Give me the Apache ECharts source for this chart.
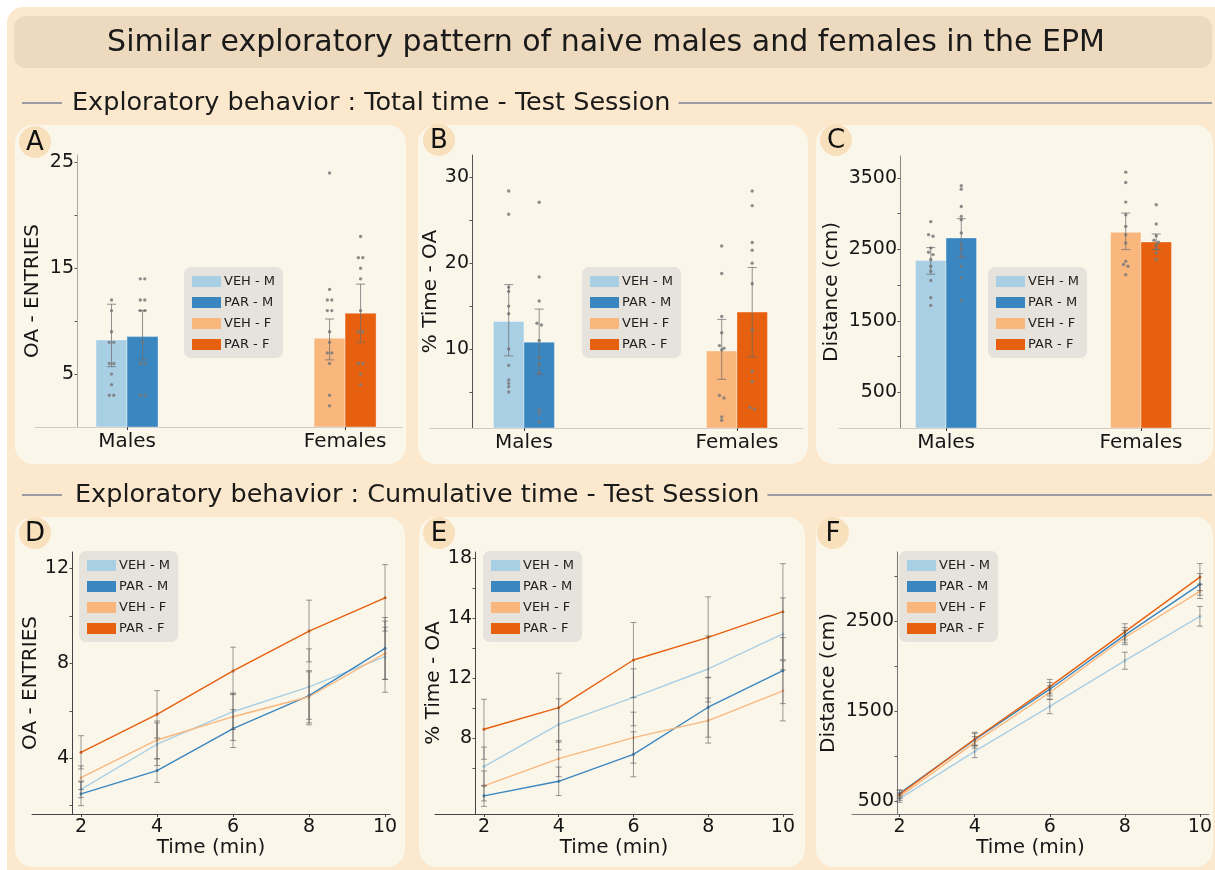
<!DOCTYPE html>
<html><head><meta charset="utf-8">
<script src="https://cdn.jsdelivr.net/npm/echarts@6/dist/echarts.min.js"></script>
<style>html,body{margin:0;padding:0;background:#fff;}#c{width:1215px;height:870px;}</style>
</head><body><div id="c"></div>
<script>
// ---------------- DATA ----------------
const groupNames = ['Males', 'Females'];
const seriesNames = ['VEH - M', 'PAR - M', 'VEH - F', 'PAR - F'];
const timePoints = [2, 4, 6, 8, 10];

// Panel A : OA entries (total)
const aMeans = [8.23, 8.54, 8.39, 10.75];
const aLow = [5.7, 6.34, 6.34, 8.0];
const aHigh = [11.6, 11.0, 10.2, 13.5];
const aDots = [
  [12, 11, 9, 8, 8, 6, 6, 5, 4, 3, 3],
  [14, 14, 12, 12, 11, 11, 8, 6, 6, 3, 3],
  [24, 13, 12, 12, 11, 11, 9, 8, 7, 7, 6, 3, 2],
  [18, 16, 16, 15, 14, 11, 9, 9, 6, 6, 5, 4]
];
// Panel B : % time OA (total)
const bMeans = [13.2, 10.8, 9.77, 14.3];
const bLow = [9.2, 7.05, 6.47, 9.1];
const bHigh = [17.5, 14.65, 13.45, 19.5];
const bDots = [
  [28.4, 25.7, 17.2, 16.7, 15.0, 14.1, 10.0, 8.1, 6.4, 6.0, 5.6, 5.0],
  [27.1, 18.4, 15.6, 13.0, 12.8, 11.0, 9.0, 8.2, 7.2, 2.9, 2.5, 1.5],
  [22.0, 18.8, 13.8, 11.9, 10.4, 10.1, 9.9, 4.6, 4.3, 2.1, 1.7],
  [28.4, 26.7, 22.4, 21.5, 20.0, 17.6, 12.2, 7.4, 6.2, 3.2, 3.0]
];
// Panel C : distance (total)
const cMeans = [2343, 2660, 2739, 2604];
const cLow = [2152, 2385, 2497, 2497];
const cHigh = [2525, 2930, 3009, 2716];
const cDots = [
  [2888, 2706, 2683, 2521, 2460, 2427, 2358, 2264, 2194, 2065, 1823, 1716],
  [3390, 3343, 3101, 2962, 2916, 2730, 2567, 2497, 2404, 2264, 2102, 1786],
  [3581, 3436, 3162, 2985, 2822, 2706, 2590, 2334, 2288, 2264, 2144],
  [3125, 2855, 2692, 2627, 2600, 2557, 2506, 2451, 2358]
];
// Panel D : cumulative OA entries
const dVals = [
  [2.69, 4.59, 5.96, 7.01, 8.28],
  [2.50, 3.48, 5.25, 6.64, 8.63],
  [3.18, 4.77, 5.75, 6.59, 8.42],
  [4.25, 5.85, 7.68, 9.36, 10.76]
];
const dErr = [
  [0.35, 0.9, 0.75, 1.6, 1.5],
  [0.5, 0.5, 0.8, 1.0, 1.3],
  [0.5, 0.8, 1.0, 1.1, 1.1],
  [0.7, 1.0, 1.0, 1.3, 1.4]
];
// Panel E : cumulative % time OA
const eVals = [
  [4.11, 6.93, 8.73, 10.62, 12.96],
  [2.16, 3.13, 4.93, 8.07, 10.51],
  [2.82, 4.64, 6.04, 7.18, 9.16],
  [6.60, 8.04, 11.22, 12.73, 14.44]
];
const eErr = [
  [1.3, 1.7, 1.9, 2.2, 2.4],
  [0.7, 0.95, 1.5, 2.0, 2.2],
  [1.0, 1.2, 1.7, 1.5, 2.0],
  [2.0, 2.3, 2.5, 2.7, 3.2]
];
// Panel F : cumulative distance
const fVals = [
  [526, 1053, 1552, 2061, 2555],
  [585, 1183, 1744, 2345, 2910],
  [548, 1153, 1707, 2319, 2832],
  [574, 1190, 1773, 2382, 2991]
];
const fErr = [
  [40, 70, 80, 95, 110],
  [40, 70, 75, 85, 120],
  [40, 65, 75, 80, 80],
  [45, 75, 80, 90, 150]
];

// Tick values / labels
const aTicks = [5, 10, 15, 20, 25], aLabels = [5, 15, 25];
const bTicks = [5, 10, 15, 20, 25, 30], bLabels = [10, 20, 30];
const cTicks = [500, 1000, 1500, 2000, 2500, 3000, 3500], cLabels = [500, 1500, 2500, 3500];
const dTicks = [2, 4, 6, 8, 10, 12], dLabels = [4, 8, 12];
const eTicks = [4, 6, 8, 10, 12, 14, 16, 18], eLabels = [6, 10, 14, 18];
const eLabelText = ['8', '12', '14', '18'];
const fTicks = [500, 1000, 1500, 2000, 2500, 3000], fLabels = [500, 1500, 2500];

// ---------------- STYLE / LAYOUT ----------------
const FONT = '"DejaVu Sans", sans-serif';
const colors = ['#A9CFE5', '#3A86C0', '#F9B77E', '#E6600F'];
const TXT = '#161616';

const barPanels = [
  {grid: {left: 35, top: 155, width: 367, height: 272}, xMin: -0.422, xMax: 1.261, yMin: 0, yMax: 25.7, yOff: -42, barW: 31,
   yColor: '#aaaaaa', name: 'OA - ENTRIES', nameGap: 34, means: aMeans, lo: aLow, hi: aHigh, dots: aDots, ticks: aTicks, labels: aLabels},
  {grid: {left: 430, top: 155, width: 373, height: 273}, xMin: -0.441, xMax: 1.31, yMin: 0.8, yMax: 32.6, yOff: -42, barW: 30.5,
   yColor: '#555555', name: '% Time - OA', nameGap: 26, means: bMeans, lo: bLow, hi: bHigh, dots: bDots, ticks: bTicks, labels: bLabels},
  {grid: {left: 839, top: 156, width: 371, height: 272}, xMin: -0.549, xMax: 1.354, yMin: 0, yMax: 3807, yOff: -61, barW: 30.5,
   yColor: '#888888', name: 'Distance (cm)', nameGap: 58, means: cMeans, lo: cLow, hi: cHigh, dots: cDots, ticks: cTicks, labels: cLabels}
];
const linePanels = [
  {grid: {left: 32, top: 552, width: 358, height: 262}, xMin: 0.71, xMax: 10.13, yMin: 1.65, yMax: 12.69, yOff: -40,
   yColor: '#444444', name: 'OA - ENTRIES', nameGap: 30, vals: dVals, errs: dErr, ticks: dTicks, labels: dLabels, fmt: null},
  {grid: {left: 435, top: 552, width: 358, height: 262}, xMin: 0.69, xMax: 10.27, yMin: 0.95, yMax: 18.42, yOff: -40,
   yColor: '#444444', name: '% Time - OA', nameGap: 28, vals: eVals, errs: eErr, ticks: eTicks, labels: eLabels,
   fmt: v => eLabelText[eLabels.indexOf(v)]},
  {grid: {left: 852, top: 552, width: 360, height: 262}, xMin: 0.73, xMax: 10.24, yMin: 356, yMax: 3270, yOff: -45,
   yColor: '#777777', name: 'Distance (cm)', nameGap: 58, vals: fVals, errs: fErr, ticks: fTicks, labels: fLabels, fmt: null}
];
const legendPos = [[184, 267], [582, 267], [988, 267], [79, 551], [483, 551], [899, 551]];

function swarm(values, thr) {
  const used = values.map(() => false), offs = values.map(() => 0);
  for (let i = 0; i < values.length; i++) {
    if (used[i]) continue;
    const cl = [i]; used[i] = true;
    for (let j = i + 1; j < values.length; j++) {
      if (!used[j] && Math.abs(values[j] - values[i]) < thr) { cl.push(j); used[j] = true; }
    }
    cl.forEach((idx, k) => { offs[idx] = (k - (cl.length - 1) / 2) * 4.5; });
  }
  return offs;
}

const grids = [], xAxes = [], yAxes = [], series = [], legends = [];

function yAxisOpt(p, idx, fmt) {
  return {
    type: 'value', gridIndex: idx, min: p.yMin, max: p.yMax, offset: p.yOff,
    name: p.name, nameLocation: 'middle', nameGap: p.nameGap,
    nameTextStyle: {fontFamily: FONT, fontSize: 20, color: TXT},
    splitLine: {show: false},
    axisLine: {show: true, onZero: false, lineStyle: {color: p.yColor, width: 1}},
    axisTick: {show: true, length: 2.5, customValues: p.ticks, lineStyle: {color: '#555'}},
    axisLabel: {customValues: p.labels, margin: 3, fontFamily: FONT, fontSize: 19, color: TXT,
      formatter: fmt || (v => String(v))}
  };
}

barPanels.forEach((p, idx) => {
  grids.push(Object.assign({containLabel: false}, p.grid));
  xAxes.push({
    type: 'value', gridIndex: idx, min: p.xMin, max: p.xMax,
    splitLine: {show: false},
    axisLine: {show: true, onZero: false, lineStyle: {color: '#cfcac2', width: 1}},
    axisTick: {show: true, length: 3, customValues: [0, 1], lineStyle: {color: '#333'}},
    axisLabel: {customValues: [0, 1], margin: 5, fontFamily: FONT, fontSize: 20, color: TXT,
      formatter: v => groupNames[Math.round(v)]}
  });
  yAxes.push(yAxisOpt(p, idx));
  const thr = (p.yMax - p.yMin) * 0.012;
  for (let i = 0; i < 4; i++) {
    const gx = i < 2 ? 0 : 1;
    const side = i % 2 === 0 ? -1 : 1;
    const half = p.barW / 2;
    series.push({
      type: 'custom', name: seriesNames[i], xAxisIndex: idx, yAxisIndex: idx, z: 2,
      itemStyle: {color: colors[i]},
      data: [[gx, p.means[i]]],
      renderItem: (params, api) => {
        const top = api.coord([api.value(0), api.value(1)]);
        const base = api.coord([api.value(0), Math.max(0, p.yMin)]);
        const x = side < 0 ? top[0] - p.barW : top[0];
        return {type: 'rect', shape: {x: x, y: top[1], width: p.barW, height: base[1] - top[1]},
          style: {fill: colors[i], stroke: 'rgba(255,255,255,0.45)', lineWidth: 0.8}};
      }
    });
    const offs = swarm(p.dots[i], thr);
    series.push({
      type: 'custom', xAxisIndex: idx, yAxisIndex: idx, z: 3, silent: true,
      data: p.dots[i].map((v, k) => [gx, v, offs[k]]),
      renderItem: (params, api) => {
        const pt = api.coord([api.value(0), api.value(1)]);
        return {type: 'circle', shape: {cx: pt[0] + side * half + api.value(2), cy: pt[1], r: 1.7},
          style: {fill: '#7a7a7a', opacity: 0.85}};
      }
    });
    series.push({
      type: 'custom', xAxisIndex: idx, yAxisIndex: idx, z: 4, silent: true,
      data: [[gx, p.lo[i], p.hi[i]]],
      renderItem: (params, api) => {
        const lo = api.coord([api.value(0), api.value(1)]);
        const hi = api.coord([api.value(0), api.value(2)]);
        const x = lo[0] + side * half, c = 4.5;
        const st = {stroke: 'rgba(110,110,110,0.75)', lineWidth: 1};
        return {type: 'group', children: [
          {type: 'line', shape: {x1: x, y1: lo[1], x2: x, y2: hi[1]}, style: st},
          {type: 'line', shape: {x1: x - c, y1: lo[1], x2: x + c, y2: lo[1]}, style: st},
          {type: 'line', shape: {x1: x - c, y1: hi[1], x2: x + c, y2: hi[1]}, style: st}
        ]};
      }
    });
  }
});

linePanels.forEach((p, k) => {
  const idx = k + 3;
  grids.push(Object.assign({containLabel: false}, p.grid));
  xAxes.push({
    type: 'value', gridIndex: idx, min: p.xMin, max: p.xMax,
    name: 'Time (min)', nameLocation: 'middle', nameGap: 22,
    nameTextStyle: {fontFamily: FONT, fontSize: 20, color: TXT},
    splitLine: {show: false},
    axisLine: {show: true, onZero: false, lineStyle: {color: p.yColor, width: 1}},
    axisTick: {show: true, length: 3, customValues: timePoints, lineStyle: {color: '#444'}},
    axisLabel: {customValues: timePoints, margin: 4, fontFamily: FONT, fontSize: 19, color: TXT}
  });
  yAxes.push(yAxisOpt(p, idx, p.fmt));
  for (let i = 0; i < 4; i++) {
    series.push({
      type: 'line', name: seriesNames[i], xAxisIndex: idx, yAxisIndex: idx, z: 3,
      color: colors[i], symbol: 'circle', symbolSize: 3, showSymbol: true,
      lineStyle: {width: 1.4, color: colors[i]}, itemStyle: {color: colors[i]},
      data: timePoints.map((t, j) => [t, p.vals[i][j]])
    });
    series.push({
      type: 'custom', xAxisIndex: idx, yAxisIndex: idx, z: 4, silent: true,
      data: timePoints.map((t, j) => [t, p.vals[i][j] - p.errs[i][j], p.vals[i][j] + p.errs[i][j]]),
      renderItem: (params, api) => {
        const lo = api.coord([api.value(0), api.value(1)]);
        const hi = api.coord([api.value(0), api.value(2)]);
        const x = lo[0], c = 3;
        const st = {stroke: 'rgba(90,90,90,0.6)', lineWidth: 1};
        return {type: 'group', children: [
          {type: 'line', shape: {x1: x, y1: lo[1], x2: x, y2: hi[1]}, style: st},
          {type: 'line', shape: {x1: x - c, y1: lo[1], x2: x + c, y2: lo[1]}, style: st},
          {type: 'line', shape: {x1: x - c, y1: hi[1], x2: x + c, y2: hi[1]}, style: st}
        ]};
      }
    });
  }
});

legendPos.forEach(pos => {
  legends.push({
    left: pos[0], top: pos[1], orient: 'vertical', icon: 'rect',
    itemWidth: 29, itemHeight: 11, itemGap: 8, padding: [8, 8, 7, 8],
    backgroundColor: '#E6E2DC', borderRadius: 7, selectedMode: false,
    textStyle: {fontFamily: FONT, fontSize: 13, color: '#1e1e1e', padding: [0, 0, 0, -2]},
    data: seriesNames.slice()
  });
});

// ---------------- DECORATION ----------------
function textWidth(t, font) {
  const ctx = document.createElement('canvas').getContext('2d');
  ctx.font = font; return ctx.measureText(t).width;
}
const secFont = '25.5px "DejaVu Sans"';
const sec1 = 'Exploratory behavior : Total time - Test Session';
const sec2 = 'Exploratory behavior : Cumulative time - Test Session';
const w1 = textWidth(sec1, secFont), w2 = textWidth(sec2, secFont);
const panelRects = [[15, 125, 391, 339], [418, 125, 390, 339], [816, 125, 397, 339],
                    [15, 517, 390, 350], [419, 517, 386, 350], [816, 517, 397, 350]];
const letters = [['A', 35, 142], ['B', 439, 140], ['C', 836, 140], ['D', 35, 533], ['E', 439, 533], ['F', 833, 533]];
const lineCol = '#7c8496';
const gEls = [
  {type: 'rect', z: -100, shape: {x: 7, y: 7, width: 1230, height: 890, r: 16}, style: {fill: '#FCE8CC'}},
  {type: 'rect', z: -99, shape: {x: 14, y: 16, width: 1198, height: 52, r: 12}, style: {fill: '#EDD9BE'}},
  {type: 'text', z: -98, x: 606, y: 43, style: {text: 'Similar exploratory pattern of naive males and females in the EPM',
    font: '30px "DejaVu Sans"', fill: '#1a1a1a', align: 'center', verticalAlign: 'middle'}},
  {type: 'line', z: -98, shape: {x1: 22, y1: 103, x2: 62, y2: 103}, style: {stroke: lineCol, lineWidth: 1.5}},
  {type: 'text', z: -98, x: 72, y: 103, style: {text: sec1, font: secFont, fill: '#1a1a1a', align: 'left', verticalAlign: 'middle'}},
  {type: 'line', z: -98, shape: {x1: 72 + w1 + 8, y1: 103, x2: 1212, y2: 103}, style: {stroke: lineCol, lineWidth: 1.5}},
  {type: 'line', z: -98, shape: {x1: 22, y1: 495, x2: 62, y2: 495}, style: {stroke: lineCol, lineWidth: 1.5}},
  {type: 'text', z: -98, x: 75, y: 495, style: {text: sec2, font: secFont, fill: '#1a1a1a', align: 'left', verticalAlign: 'middle'}},
  {type: 'line', z: -98, shape: {x1: 75 + w2 + 8, y1: 495, x2: 1212, y2: 495}, style: {stroke: lineCol, lineWidth: 1.5}}
];
panelRects.forEach(r => gEls.push({type: 'rect', z: -97, shape: {x: r[0], y: r[1], width: r[2], height: r[3], r: 18}, style: {fill: '#FBF6EA'}}));
letters.forEach(l => {
  gEls.push({type: 'circle', z: -96, shape: {cx: l[1], cy: l[2], r: 16}, style: {fill: '#F9E0BC'}});
  gEls.push({type: 'text', z: -95, x: l[1], y: l[2] + 1, style: {text: l[0], font: '26px "DejaVu Sans"', fill: '#111', align: 'center', verticalAlign: 'middle'}});
});

const chart = echarts.init(document.getElementById('c'), null, {renderer: 'canvas'});
chart.setOption({
  animation: false,
  backgroundColor: '#ffffff',
  textStyle: {fontFamily: FONT},
  graphic: {elements: gEls},
  grid: grids, xAxis: xAxes, yAxis: yAxes, legend: legends, series: series
});
</script></body></html>
